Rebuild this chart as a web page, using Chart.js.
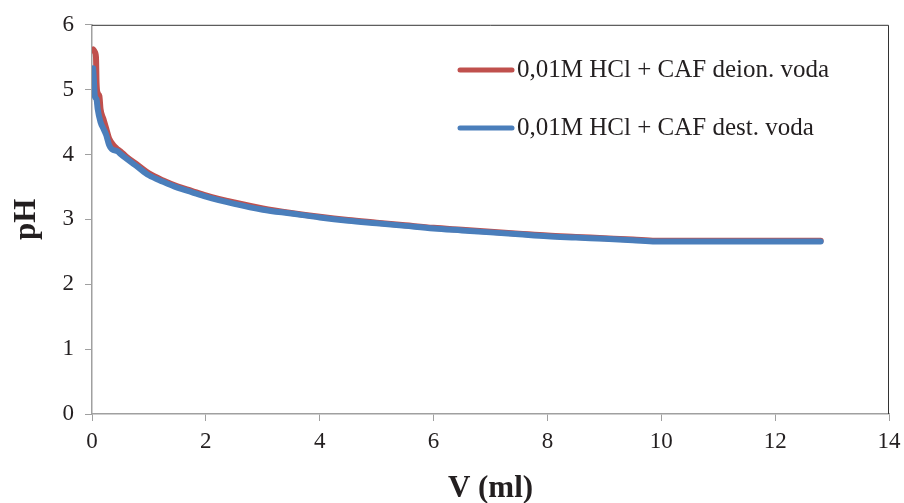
<!DOCTYPE html>
<html>
<head>
<meta charset="utf-8">
<script src="https://cdn.jsdelivr.net/npm/chart.js@4"></script>
<style>
  html, body { margin: 0; padding: 0; background: #fff; }
  #wrap { width: 904px; height: 503px; }
</style>
</head>
<body>
<div id="wrap"><canvas id="ph-chart"></canvas></div>
<script>
// titration curves
var volRed = [0.02, 0.05, 0.07, 0.08, 0.10, 0.13, 0.15, 0.20, 0.25, 0.30, 0.40, 0.45, 0.50, 0.60, 0.80, 1.00, 1.25, 1.50, 1.75, 2.00, 2.50, 3.00, 3.50, 4.00, 4.50, 5.00, 5.50, 6.00, 6.50, 7.00, 7.50, 8.00, 8.50, 9.00, 9.50, 9.90, 10.50, 11.00, 11.50, 12.00, 12.50, 12.80];
var phRed  = [5.62, 5.58, 5.50, 5.10, 4.95, 4.90, 4.70, 4.55, 4.40, 4.25, 4.12, 4.08, 4.05, 3.97, 3.84, 3.71, 3.60, 3.51, 3.44, 3.37, 3.26, 3.17, 3.10, 3.04, 2.99, 2.95, 2.91, 2.87, 2.84, 2.81, 2.78, 2.75, 2.73, 2.71, 2.69, 2.67, 2.67, 2.67, 2.67, 2.67, 2.67, 2.67];

var volBlue = [0.02, 0.03, 0.05, 0.08, 0.10, 0.15, 0.20, 0.25, 0.30, 0.35, 0.45, 0.50, 0.60, 0.80, 1.00, 1.25, 1.50, 1.75, 2.00, 2.50, 3.00, 3.50, 4.00, 4.50, 5.00, 5.50, 6.00, 6.50, 7.00, 7.50, 8.00, 8.50, 9.00, 9.50, 9.90, 10.50, 11.00, 11.50, 12.00, 12.50, 12.80];
var phBlue  = [5.33, 5.20, 4.90, 4.85, 4.70, 4.50, 4.40, 4.30, 4.15, 4.08, 4.05, 4.01, 3.94, 3.81, 3.68, 3.58, 3.49, 3.42, 3.35, 3.24, 3.15, 3.09, 3.03, 2.98, 2.94, 2.90, 2.86, 2.83, 2.80, 2.77, 2.74, 2.72, 2.70, 2.68, 2.66, 2.66, 2.66, 2.66, 2.66, 2.66, 2.66];

var seriesNames = ['0,01M HCl + CAF deion. voda', '0,01M HCl + CAF dest. voda'];
var seriesColors = ['#C0504D', '#4A7EBB'];
var xTicks = [0, 2, 4, 6, 8, 10, 12, 14];
var yTicks = [0, 1, 2, 3, 4, 5, 6];

function toPoints(xs, ys) {
	return xs.map(function (x, i) { return {x: x, y: ys[i]}; });
}

var serif = "'Liberation Serif', 'Times New Roman', serif";
var axisGray = '#a0a0a0';
var textColor = '#231f20';

// legend sits inside the plot, top right, like the Excel original
var insideLegend = {
	id: 'insideLegend',
	afterDraw: function (chart) {
		var ctx = chart.ctx;
		var rows = [70, 128];
		ctx.save();
		ctx.lineCap = 'round';
		ctx.lineWidth = 5;
		ctx.font = '25px ' + serif;
		ctx.textBaseline = 'middle';
		ctx.fillStyle = textColor;
		rows.forEach(function (y, i) {
			ctx.strokeStyle = seriesColors[i];
			ctx.beginPath();
			ctx.moveTo(460, y);
			ctx.lineTo(512, y);
			ctx.stroke();
			ctx.fillText(seriesNames[i], 517, y);
		});
		ctx.restore();
	}
};

// dark top and right frame of the plot area
var plotFrame = {
	id: 'plotFrame',
	afterDraw: function (chart) {
		var a = chart.chartArea, ctx = chart.ctx;
		ctx.save();
		ctx.strokeStyle = '#333';
		ctx.lineWidth = 1;
		ctx.beginPath();
		ctx.moveTo(a.left, a.top + 0.5);
		ctx.lineTo(a.right - 0.5, a.top + 0.5);
		ctx.lineTo(a.right - 0.5, a.bottom);
		ctx.stroke();
		ctx.restore();
	}
};

new Chart('ph-chart', {
	type: 'line',
	data: {
		datasets: [
			{
				label: seriesNames[0],
				data: toPoints(volRed, phRed),
				borderColor: seriesColors[0],
				borderWidth: 6,
				pointRadius: 0,
				cubicInterpolationMode: 'monotone',
				borderCapStyle: 'round',
				borderJoinStyle: 'round',
				order: 2
			},
			{
				label: seriesNames[1],
				data: toPoints(volBlue, phBlue),
				borderColor: seriesColors[1],
				borderWidth: 6,
				pointRadius: 0,
				cubicInterpolationMode: 'monotone',
				borderCapStyle: 'round',
				borderJoinStyle: 'round',
				order: 1
			}
		]
	},
	options: {
		responsive: true,
		maintainAspectRatio: false,
		animation: false,
		layout: { padding: { top: 22, right: 15, left: 0, bottom: 0 } },
		plugins: {
			legend: { display: false },
			tooltip: { enabled: false }
		},
		scales: {
			x: {
				type: 'linear',
				min: 0,
				max: 14,
				afterBuildTicks: function (s) { s.ticks = xTicks.map(function (v) { return {value: v}; }); },
				afterFit: function (s) { s.height = 89; s.paddingLeft = 0; s.paddingRight = 0; },
				ticks: { color: textColor, font: { family: serif, size: 23 }, padding: 7, maxRotation: 0 },
				grid: { drawOnChartArea: false, tickLength: 7, color: axisGray },
				border: { color: axisGray, width: 1.5 },
				title: { display: true, text: 'V (ml)', color: textColor, font: { family: serif, size: 31, weight: 'bold' }, padding: { top: 2, bottom: -5 } }
			},
			y: {
				min: 0,
				max: 6,
				afterBuildTicks: function (s) { s.ticks = yTicks.map(function (v) { return {value: v}; }); },
				afterFit: function (s) { s.width = 92; },
				ticks: { color: textColor, font: { family: serif, size: 23 }, padding: 11 },
				grid: { drawOnChartArea: false, tickLength: 7, color: axisGray },
				border: { color: axisGray, width: 1.5 },
				title: { display: true, text: 'pH', color: textColor, font: { family: serif, size: 31, weight: 'bold' }, padding: { top: 8, bottom: 0 } }
			}
		}
	},
	plugins: [insideLegend, plotFrame]
});
</script>
</body>
</html>
